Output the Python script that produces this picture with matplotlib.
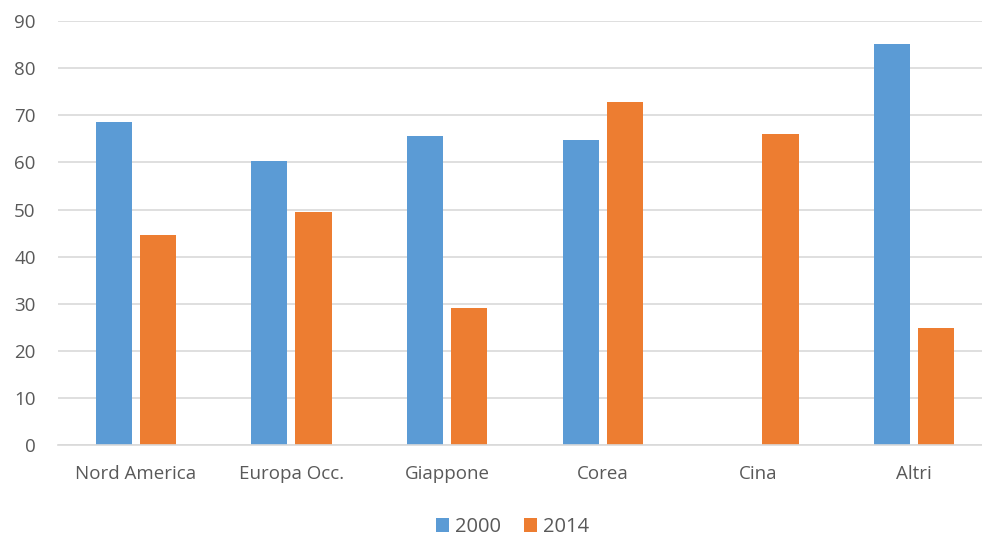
import numpy as np
import matplotlib.pyplot as plt

categories = ["Nord America", "Europa Occ.", "Giappone", "Corea", "Cina", "Altri"]
values_2000 = [68.5, 60.4, 65.6, 64.8, 0, 85.1]
values_2014 = [44.7, 49.4, 29.1, 72.8, 66.0, 24.8]

plt.rcParams['font.family'] = ['Open Sans', 'DejaVu Sans']

fig = plt.figure(figsize=(9.82, 5.39), dpi=100)
ax = fig.add_axes([0.059, 0.174, 0.951, 0.787])

x = np.arange(len(categories))
w = 0.232
ax.bar(x - 0.142, values_2000, w, color='#5b9bd5', label='2000')
ax.bar(x + 0.142, values_2014, w, color='#ed7d31', label='2014')

ax.set_xlim(-0.5, len(categories) - 0.5)
ax.set_ylim(0, 90)
ax.set_yticks(range(0, 91, 10))
ax.set_xticks(x)
ax.set_xticklabels(categories)
ax.grid(axis='y', color='#d9d9d9', linewidth=1.2)
ax.set_axisbelow(True)
for s in ['top', 'right', 'left']:
    ax.spines[s].set_visible(False)
ax.spines['bottom'].set_color('#d9d9d9')
ax.spines['bottom'].set_linewidth(1.2)
ax.tick_params(length=0, labelsize=13.5, colors='#595959', pad=14)
ax.tick_params(axis='y', pad=16)

fig.legend(loc='lower center', ncol=2, frameon=False, fontsize=14.5,
           handlelength=0.65, handleheight=0.65, handletextpad=0.3,
           columnspacing=1.1, bbox_to_anchor=(0.522, -0.03), labelcolor='#595959')

fig.savefig('out.png', dpi=100)
